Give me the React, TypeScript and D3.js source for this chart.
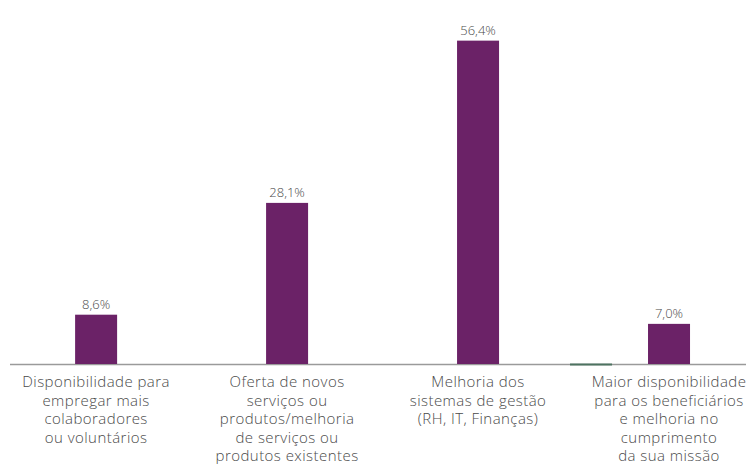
import React, { useEffect, useRef } from 'react';
import * as d3 from 'd3';

const categories = [
  'Disponibilidade para empregar mais colaboradores ou voluntários',
  'Oferta de novos serviços ou produtos/melhoria de serviços ou produtos existentes',
  'Melhoria dos sistemas de gestão (RH, IT, Finanças)',
  'Maior disponibilidade para os beneficiários e melhoria no cumprimento da sua missão'
];

const labelLines = [
  ['Disponibilidade para', 'empregar mais', 'colaboradores', 'ou voluntários'],
  ['Oferta de novos', 'serviços ou', 'produtos/melhoria', 'de serviços ou', 'produtos existentes'],
  ['Melhoria dos', 'sistemas de gestão', '(RH, IT, Finanças)'],
  ['Maior disponibilidade', 'para os beneficiários', 'e melhoria no', 'cumprimento', 'da sua missão']
];

const values = [8.6, 28.1, 56.4, 7.0];
// second series only shows as a flat zero bar in the last group
const otherValues = [null, null, null, 0];

const WIDTH = 746;
const HEIGHT = 464;

export default function App() {
  const svgRef = useRef<SVGSVGElement>(null);

  useEffect(() => {
    document.body.style.margin = '0';
    if (!svgRef.current) return;
    const svg = d3.select(svgRef.current);
    svg.selectAll('*').remove();

    const margin = { top: 20, right: 0, bottom: 100, left: 10 };
    const baseline = HEIGHT - margin.bottom;
    const barWidth = 42;

    const x = d3.scalePoint<string>()
      .domain(categories)
      .range([margin.left, WIDTH - margin.right])
      .padding(0.427)
      .align(0.528);

    const y = d3.scaleLinear()
      .domain([0, 60])
      .range([baseline, margin.top]);

    const font = "'Open Sans', sans-serif";

    svg.append('line')
      .attr('x1', margin.left)
      .attr('x2', WIDTH - margin.right)
      .attr('y1', baseline + 0.5)
      .attr('y2', baseline + 0.5)
      .attr('stroke', '#9a9a9a')
      .attr('stroke-width', 1.5);

    svg.selectAll('rect.other')
      .data(categories.map((c, i) => ({ c, v: otherValues[i] })).filter(d => d.v !== null))
      .join('rect')
      .attr('class', 'other')
      .attr('x', d => (x(d.c) as number) - barWidth / 2 - 78)
      .attr('y', d => y(d.v as number) - 0.5)
      .attr('width', barWidth)
      .attr('height', 2)
      .attr('fill', '#4d7360');

    svg.selectAll('rect.bar')
      .data(values)
      .join('rect')
      .attr('class', 'bar')
      .attr('x', (_, i) => (x(categories[i]) as number) - barWidth / 2)
      .attr('y', d => y(d))
      .attr('width', barWidth)
      .attr('height', d => baseline - y(d))
      .attr('fill', '#6b2267');

    svg.selectAll('text.value')
      .data(values)
      .join('text')
      .attr('class', 'value')
      .attr('x', (_, i) => x(categories[i]) as number)
      .attr('y', d => y(d) - 6)
      .attr('text-anchor', 'middle')
      .attr('font-family', font)
      .attr('font-weight', 300)
      .attr('font-size', 13)
      .attr('fill', '#4a4a4a')
      .text(d => d.toFixed(1).replace('.', ',') + '%');

    categories.forEach((c, i) => {
      const t = svg.append('text')
        .attr('x', x(c) as number)
        .attr('y', baseline + 23)
        .attr('text-anchor', 'middle')
        .attr('font-family', font)
        .attr('font-weight', 300)
        .attr('font-size', 15)
        .attr('letter-spacing', 0.45)
        .attr('fill', '#4a4a4a');
      labelLines[i].forEach((line, j) => {
        t.append('tspan')
          .attr('x', x(c) as number)
          .attr('dy', j === 0 ? 0 : 18.5)
          .text(line);
      });
    });
  }, []);

  return <svg ref={svgRef} width={WIDTH} height={HEIGHT} style={{ display: 'block' }} />;
}
